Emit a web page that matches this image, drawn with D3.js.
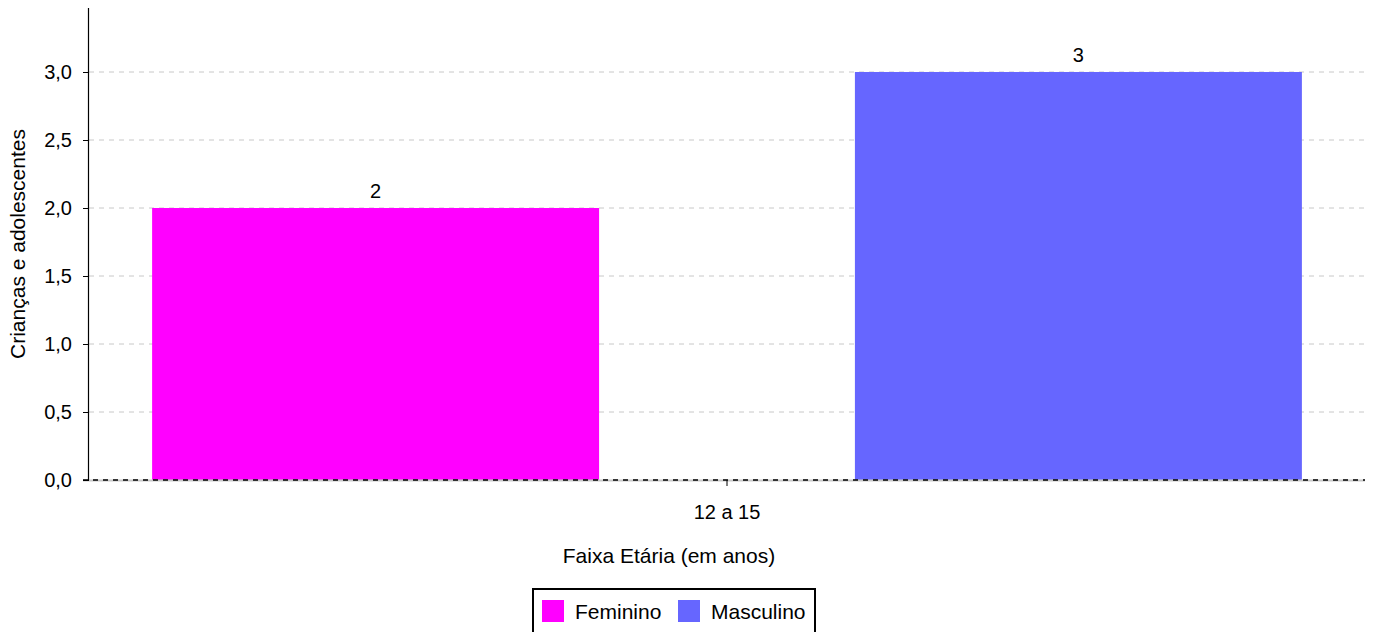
<!DOCTYPE html>
<html><head><meta charset="utf-8">
<script src="https://cdn.jsdelivr.net/npm/d3@7"></script>
<style>body{margin:0;background:#fff;}svg{display:block;font-family:"Liberation Sans",Arial,sans-serif;}</style>
</head><body>
<svg id="c" width="1377" height="632"></svg>
<script>
const categories = ["12 a 15"];
const seriesNames = ["Feminino", "Masculino"];
const seriesColors = ["#ff00ff", "#6666ff"];
const femininoValues = [2];
const masculinoValues = [3];
const yTicks = [0, 0.5, 1.0, 1.5, 2.0, 2.5, 3.0];
const xTitle = "Faixa Etária (em anos)";
const yTitle = "Crianças e adolescentes";

const FS = 21;
const svg = d3.select("#c");
const L = 89, R = 1365, T = 8, B = 480;
const y = d3.scaleLinear().domain([0, 3]).range([B, 72]);
const yTop = y.invert(T);
y.domain([0, yTop]).range([B, T]);
const x0 = d3.scaleBand().domain(categories).range([L, R]).padding(0);
const x1 = d3.scaleBand().domain(seriesNames).range([0, x0.bandwidth()]).paddingInner(0.364).paddingOuter(0.0898);
const fmt = v => d3.format(".1f")(v).replace(".", ",");

// grid
svg.append("g").selectAll("line").data(yTicks.filter(d => d > 0)).join("line")
  .attr("x1", L).attr("x2", R).attr("y1", d => y(d)).attr("y2", d => y(d))
  .attr("stroke", "#c8c8c8").attr("stroke-dasharray", "5,5").attr("stroke-width", 1);

// bars
const data = categories.map((c, i) => ({cat: c, vals: [femininoValues[i], masculinoValues[i]]}));
const g = svg.append("g");
data.forEach(d => {
  d.vals.forEach((v, j) => {
    const xx = x0(d.cat) + x1(seriesNames[j]);
    g.append("rect").attr("x", xx).attr("y", y(v)).attr("width", x1.bandwidth()).attr("height", y(0) - y(v))
      .attr("fill", seriesColors[j]);
    g.append("text").attr("x", xx + x1.bandwidth() / 2).attr("y", y(v) - 10)
      .attr("text-anchor", "middle").attr("font-size", 20).attr("fill", "#000").text(v);
  });
});

// zero line
svg.append("line").attr("x1", L - 6).attr("x2", R).attr("y1", y(0) + 0.5).attr("y2", y(0) + 0.5)
  .attr("stroke", "#c8c8c8").attr("stroke-width", 2);
svg.append("line").attr("x1", L - 6).attr("x2", R).attr("y1", y(0)).attr("y2", y(0))
  .attr("stroke", "#000").attr("stroke-width", 1.3).attr("stroke-dasharray", "5,5");

// y axis
const yAxis = d3.axisLeft(y).tickValues(yTicks).tickFormat(fmt).tickSize(6).tickPadding(11);
const ya = svg.append("g").attr("transform", `translate(${L},0)`).call(yAxis);
ya.select(".domain").attr("d", `M-0.5,${T}V${B}`).attr("stroke", "#000").attr("stroke-width", 1.2);
ya.selectAll(".tick line").attr("stroke", "#000");
ya.selectAll(".tick text").attr("font-size", 20).attr("fill", "#000").attr("font-family", "Liberation Sans, Arial, sans-serif");

// x axis
const xAxis = d3.axisBottom(x0).tickSize(6).tickPadding(19);
const xa = svg.append("g").attr("transform", `translate(0,${B})`).call(xAxis);
xa.select(".domain").remove();
xa.selectAll(".tick line").attr("stroke", "#000");
xa.selectAll(".tick text").attr("font-size", 20).attr("fill", "#000").attr("font-family", "Liberation Sans, Arial, sans-serif");

// titles
svg.append("text").attr("x", 669).attr("y", 563).attr("text-anchor", "middle")
  .attr("font-size", FS).attr("fill", "#000").text(xTitle);
svg.append("text").attr("transform", `translate(25,${(T + B) / 2}) rotate(-90)`).attr("text-anchor", "middle")
  .attr("font-size", FS).attr("fill", "#000").text(yTitle);

// legend
const lg = svg.append("g");
lg.append("rect").attr("x", 533).attr("y", 589).attr("width", 282).attr("height", 50)
  .attr("fill", "#fff").attr("stroke", "#000").attr("stroke-width", 2);
const legX = [542, 678];
seriesNames.forEach((s, i) => {
  lg.append("rect").attr("x", legX[i]).attr("y", 600).attr("width", 22).attr("height", 22).attr("fill", seriesColors[i]);
  lg.append("text").attr("x", legX[i] + 33).attr("y", 619).attr("font-size", FS).attr("fill", "#000").text(s);
});
</script>
</body></html>
